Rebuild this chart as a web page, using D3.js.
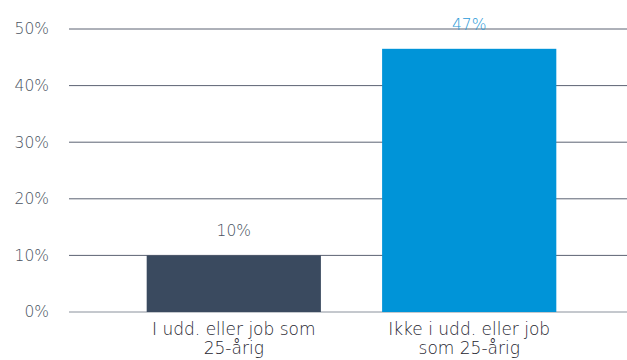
<!DOCTYPE html>
<html>
<head>
<meta charset="utf-8">
<script src="https://cdn.jsdelivr.net/npm/d3@7"></script>
<style>
  body { margin: 0; background: #fff; }
  text { font-family: "DejaVu Sans", sans-serif; font-weight: 200; }
</style>
</head>
<body>
<div id="chart"></div>
<script>
// data
var categories = ["I udd. eller job som 25-årig", "Ikke i udd. eller job som 25-årig"];
var labelLines = [["I udd. eller job som", "25-årig"], ["Ikke i udd. eller job", "som 25-årig"]];
var values = [10, 46.5];
var valueLabels = ["10%", "47%"];
var barColors = ["#3a4a5f", "#0094d8"];
var labelColors = ["#4a5361", "#2a9ad8"];
var yTicks = [0, 10, 20, 30, 40, 50];

var svgWidth = 627;
var svgHeight = 360;

var svg = d3.select("#chart")
  .append("svg")
  .attr("width", svgWidth)
  .attr("height", svgHeight);

var xScale = d3.scaleBand()
  .domain(categories)
  .range([69, 634])
  .paddingInner(0.26)
  .paddingOuter(0.33);

var yScale = d3.scaleLinear()
  .domain([0, 50])
  .range([312, 29]);

// gridlines
svg.selectAll(".grid")
  .data(yTicks)
  .enter()
  .append("line")
  .attr("x1", 69)
  .attr("x2", svgWidth)
  .attr("y1", d => yScale(d))
  .attr("y2", d => yScale(d))
  .attr("stroke", d => d === 0 ? "#8a919c" : "#5c6373")
  .attr("stroke-width", 1);

// y tick labels
svg.selectAll(".ytick")
  .data(yTicks)
  .enter()
  .append("text")
  .attr("x", 49)
  .attr("y", d => yScale(d))
  .attr("dy", "0.35em")
  .attr("text-anchor", "end")
  .attr("font-size", "15.5px")
  .attr("fill", "#4a5361")
  .text(d => d + "%");

// bars
svg.selectAll(".bar")
  .data(values)
  .enter()
  .append("rect")
  .attr("x", (d, i) => xScale(categories[i]))
  .attr("y", d => yScale(d))
  .attr("width", xScale.bandwidth())
  .attr("height", d => yScale(0) - yScale(d))
  .attr("fill", (d, i) => barColors[i]);

// value labels
svg.selectAll(".vlabel")
  .data(values)
  .enter()
  .append("text")
  .attr("x", (d, i) => xScale(categories[i]) + xScale.bandwidth() / 2)
  .attr("y", d => yScale(d) - 19)
  .attr("text-anchor", "middle")
  .attr("font-size", "15.5px")
  .attr("fill", (d, i) => labelColors[i])
  .text((d, i) => valueLabels[i]);

// category labels, one text per line
labelLines.forEach(function(lines, i) {
  lines.forEach(function(line, j) {
    svg.append("text")
      .attr("x", xScale(categories[i]) + xScale.bandwidth() / 2)
      .attr("y", 335 + j * 19)
      .attr("text-anchor", "middle")
      .attr("font-size", "17px")
      .attr("fill", "#1f2630")
      .text(line);
  });
});
</script>
</body>
</html>
